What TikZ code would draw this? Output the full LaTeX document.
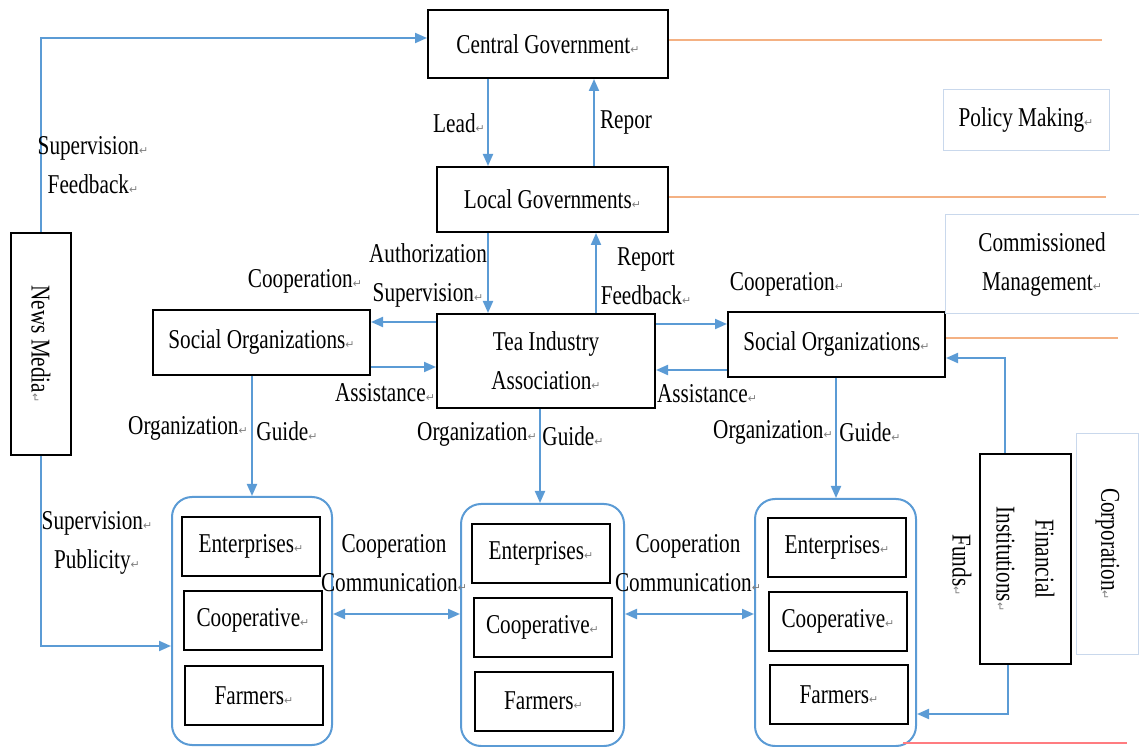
\documentclass[tikz,border=0pt]{standalone}
\usepackage{fontspec}
\setmainfont{Liberation Serif}[FakeStretch=0.78]
\newfontfamily\markfont{DejaVu Sans}
\usetikzlibrary{arrows.meta}
\definecolor{linkblue}{HTML}{5B9BD5}
\definecolor{bandorange}{HTML}{F4B183}
\definecolor{bandred}{HTML}{FF7C80}
\definecolor{tagframe}{HTML}{C9D8EC}
\newcommand{\parmark}{{\markfont\fontsize{5.5}{5.5}\selectfont\textcolor{gray}{↵}}}

\begin{document}
\begin{tikzpicture}[x=0.5pt,y=-0.5pt,
  every node/.style={font=\fontsize{13.6}{19.5}\selectfont, inner sep=0pt},
  box/.style n args={2}{draw=black, line width=1pt, minimum width=#1, minimum height=#2},
  tag/.style n args={2}{draw=tagframe, line width=0.5pt, minimum width=#1, minimum height=#2},
  group/.style n args={2}{draw=linkblue, line width=1pt, rounded corners=10pt, minimum width=#1, minimum height=#2},
  flow/.style={draw=linkblue, line width=1pt, -{Triangle[length=6pt,width=5pt]}},
  both/.style={draw=linkblue, line width=1pt, {Triangle[length=6pt,width=5pt]}-{Triangle[length=6pt,width=5pt]}},
  band/.style={draw=bandorange, line width=1pt}]
  \useasboundingbox (0,0) rectangle (1139,747);

  % Government and association boxes
  \node[box={120pt}{34pt}] (cg) at (548,44) {Central Government\parmark};
  \node[box={115.5pt}{32.5pt}] (lg) at (552.5,199.5) {Local Governments\parmark};
  \node[box={109pt}{47pt}, align=center] (tea) at (546,361) {Tea Industry\\Association\parmark};
  \node[box={108.5pt}{32.5pt}] (soL) at (261.5,342.5) {Social Organizations\parmark};
  \node[box={108.5pt}{32.5pt}] (soR) at (836.5,344.5) {Social Organizations\parmark};

  % Side boxes with vertical text
  \node[box={30pt}{111pt}] (news) at (41,344) {};
  \node[rotate=-90] (newstext) at (news) {News Media\parmark};
  \node[box={45.5pt}{105pt}] (fin) at (1025.5,559) {};
  \node[rotate=-90, align=center] (fintext) at (fin) {Financial\\Institutions\parmark};
  \node[tag={31pt}{110pt}] (corp) at (1107.5,544) {};
  \node[rotate=-90] (corptext) at (corp) {Corporation\parmark};

  % Level tags on the right
  \node[tag={83pt}{30.5pt}] (policy) at (1026,120.5) {Policy Making\parmark};
  \node[tag={97pt}{49.5pt}, align=center] (commis) at (1042,264.5) {Commissioned\\Management\parmark};

  % Groups of enterprises, cooperatives and farmers
  \node[group={80pt}{124pt}] (g1) at (252,621) {};
  \node[group={81.5pt}{121pt}] (g2) at (542.5,625) {};
  \node[group={80.5pt}{123.5pt}] (g3) at (835.5,622.5) {};
  \node[box={69pt}{29.5pt}] (ent1) at (251,546.5) {Enterprises\parmark};
  \node[box={69pt}{29.5pt}] (coo1) at (253,620.5) {Cooperative\parmark};
  \node[box={69pt}{29.5pt}] (far1) at (254,695.5) {Farmers\parmark};
  \node[box={69pt}{29.5pt}] (ent2) at (541,553.5) {Enterprises\parmark};
  \node[box={69pt}{29.5pt}] (coo2) at (542.5,627.5) {Cooperative\parmark};
  \node[box={69pt}{29.5pt}] (far2) at (543.5,701) {Farmers\parmark};
  \node[box={69pt}{29.5pt}] (ent3) at (837,547.5) {Enterprises\parmark};
  \node[box={69pt}{29.5pt}] (coo3) at (838,621.5) {Cooperative\parmark};
  \node[box={69pt}{29.5pt}] (far3) at (839,694.5) {Farmers\parmark};

  % Level lines
  \coordinate (bandA) at (1102,40);
  \coordinate (bandB) at (1106,197);
  \coordinate (bandC) at (1118,338);
  \coordinate (redA) at (903,743);
  \coordinate (redB) at (1127,743);
  \draw[band] (cg.east |- bandA) -- (bandA);
  \draw[band] (lg.east |- bandB) -- (bandB);
  \draw[band] (soR.east |- bandC) -- (bandC);
  \draw[draw=bandred, line width=1pt] (redA) -- (redB);

  % Arrows between the levels
  \draw[flow] (cg.south -| 488,0) -- (lg.north -| 488,0);
  \draw[flow] (lg.north -| 594,0) -- (cg.south -| 594,0);
  \draw[flow] (lg.south -| 488,0) -- (tea.north -| 488,0);
  \draw[flow] (tea.north -| 596,0) -- (lg.south -| 596,0);
  \draw[flow] (tea.west |- 0,322) -- (soL.east |- 0,322);
  \draw[flow] (soL.east |- 0,367) -- (tea.west |- 0,367);
  \draw[flow] (tea.east |- 0,324) -- (soR.west |- 0,324);
  \draw[flow] (soR.west |- 0,370) -- (tea.east |- 0,370);
  \draw[flow] (soL.south -| 252,0) -- (g1.north -| 252,0);
  \draw[flow] (tea.south -| 540,0) -- (g2.north -| 540,0);
  \draw[flow] (soR.south -| 836,0) -- (g3.north -| 836,0);
  \draw[both] (g1.east |- 0,614) -- (g2.west |- 0,614);
  \draw[both] (g2.east |- 0,614) -- (g3.west |- 0,614);

  % Media and finance arrows
  \draw[flow] (news.north) |- (cg.west |- 0,38);
  \draw[flow] (news.south) |- (g1.west |- 0,646);
  \draw[flow] (fin.north -| 1005,0) |- (soR.east |- 0,358);
  \draw[flow] (fin.south -| 1008,0) |- (g3.east |- 0,714);

  % Arrow labels
  \node[align=center] (supfb) at (93,165) {Supervision\parmark\\Feedback\parmark};
  \node (lead) at (459,123) {Lead\parmark};
  \node (repor) at (626,122) {Repor};
  \node[align=center] (authsup) at (428,275) {Authorization\\Supervision\parmark};
  \node[align=center] (repfb) at (646,276) {Report\\Feedback\parmark};
  \node (coopL) at (305,281) {Cooperation\parmark};
  \node (coopR) at (787,284) {Cooperation\parmark};
  \node (assL) at (385,393) {Assistance\parmark};
  \node (assR) at (707,394) {Assistance\parmark};
  \node (orgL) at (188,428) {Organization\parmark};
  \node (guideL) at (287,431) {Guide\parmark};
  \node (orgM) at (477,434) {Organization\parmark};
  \node (guideM) at (573,436) {Guide\parmark};
  \node (orgR) at (773,432) {Organization\parmark};
  \node (guideR) at (870,432) {Guide\parmark};
  \node[align=center] (suppub) at (97,543) {Supervision\parmark\\Publicity\parmark};
  \node[align=center] (coopcomA) at (394,563) {Cooperation\\Communication\parmark};
  \node[align=center] (coopcomB) at (688,563) {Cooperation\\Communication\parmark};
  \node[rotate=-90] (funds) at (962,565) {Funds\parmark};
\end{tikzpicture}
\end{document}
